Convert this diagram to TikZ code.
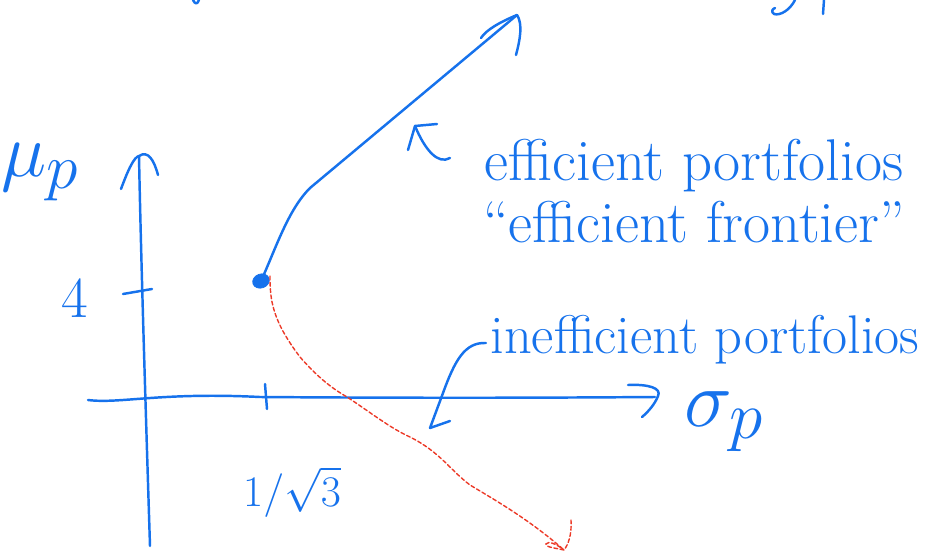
\documentclass[tikz,border=0pt]{standalone}
\usepackage{amsmath}
\usetikzlibrary{shapes.geometric}
\definecolor{penblue}{RGB}{22,114,236}
\definecolor{penred}{RGB}{236,58,40}
\tikzset{
  pen/.style={draw=penblue, line width=1.4pt, line cap=round, line join=round},
  redpen/.style={draw=penred, line width=0.8pt, dash pattern=on 2.2pt off 1.4pt, line cap=round},
  hand/.style={text=penblue, inner sep=0pt, anchor=center},
}
\begin{document}
\begin{tikzpicture}[x=0.02cm,y=-0.02cm]
\useasboundingbox (0,0) rectangle (930,558);

% ---- coordinates
\coordinate (ybot) at (150,546);
\coordinate (ytop) at (139,156);
\coordinate (xleft) at (88,400);
\coordinate (xright) at (655,397);
\coordinate (ftop) at (517,15);
\coordinate (rtip) at (564,550);

% ---- cut-off strokes at the top edge
\draw[pen] (193,0) .. controls (195,4) and (197,5) .. (199,0);
\draw[pen] (795,0) .. controls (790,10) and (780,16) .. (774,14) .. controls (771,12) and (772,9) .. (775,8);
\draw[pen] (824,0) -- (823,14);

% ---- axes
\draw[pen] (ybot) .. controls (146,420) and (141,260) .. (ytop);
\draw[pen] (121,189) .. controls (128,170) and (134,157) .. (ytop) .. controls (148,150) and (154,160) .. (158,175);
\draw[pen] (xleft) .. controls (120,404) and (160,392) .. (260,397) .. controls (400,398) and (520,398) .. (xright);
\draw[pen] (628,385) .. controls (648,384) and (662,388) .. (658,396) .. controls (655,404) and (648,412) .. (642,417);

% ticks
\draw[pen] (123,294) -- (152,289);
\draw[pen] (265,384) -- (267,409);

% ---- efficient frontier
\node[fill=penblue, draw=penblue, ellipse, minimum width=0.34cm, minimum height=0.28cm, inner sep=0pt, rotate=20] (dot) at (261,281) {};
\draw[pen] (dot.center) .. controls (276,248) and (288,210) .. (310,188) -- (ftop);
\draw[pen] (481,38) .. controls (486,30) and (500,22) .. (ftop) .. controls (523,24) and (520,40) .. (516,55);

% ---- inefficient branch (red dashed)
\draw[redpen] (270,276) .. controls (270,300) and (272,320) .. (300,357)
  .. controls (320,380) and (335,390) .. (347,397)
  .. controls (370,412) and (390,428) .. (410,437)
  .. controls (440,452) and (450,470) .. (470,485)
  .. controls (495,500) and (530,520) .. (rtip);
\draw[redpen] (571,520) .. controls (572,535) and (568,545) .. (rtip)
  .. controls (555,548) and (545,547) .. (546,544) .. controls (548,540) and (558,545) .. (rtip);

% ---- labels
\node[hand, font=\Huge] (mu) at (40,172) {\scalebox{1.75}{$\mu_p$}};
\node[hand, font=\fontsize{33}{38}\selectfont] (four) at (75,298) {4};
\node[hand, font=\Huge] (sig0) at (292,492) {$1/\sqrt{3}$};
\node[hand, font=\Huge] (sigma) at (724,422) {\scalebox{1.85}{$\sigma_p$}};

\node[hand, font=\fontsize{33.5}{40}\selectfont] (eff) at (694,166) {efficient portfolios};
\node[hand, font=\fontsize{33.5}{40}\selectfont] (front) at (694,222) {``efficient frontier''};
\node[hand, font=\fontsize{31}{36}\selectfont] (ineff) at (705,340) {inefficient portfolios};

% ---- pointer arrows
\coordinate (effarrow) at (415,126);
\draw[pen] (450,158) .. controls (438,165) and (425,150) .. (effarrow);
\draw[pen] (408,150) -- (effarrow) -- (437,124);

\coordinate (ineffarrow) at (430,428);
\draw[pen] (486,343) .. controls (465,342) and (455,360) .. (443,393) -- (ineffarrow) -- (450,421);
\end{tikzpicture}
\end{document}
